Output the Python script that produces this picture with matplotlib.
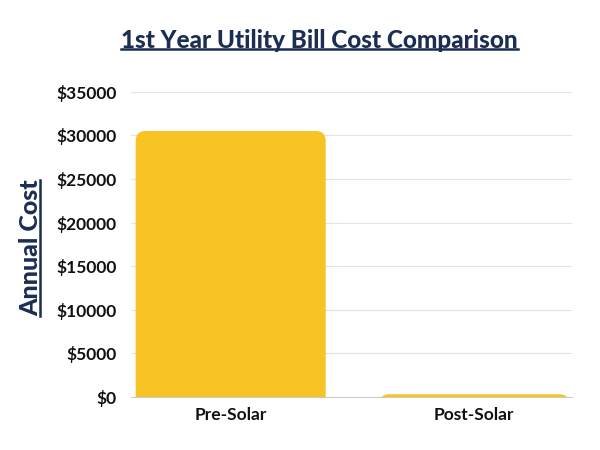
import matplotlib.pyplot as plt
from matplotlib.patches import FancyBboxPatch
from matplotlib.lines import Line2D
import matplotlib.ticker as ticker

categories = ['Pre-Solar', 'Post-Solar']
annual_cost = [30500, 300]
yticks = [0, 5000, 10000, 15000, 20000, 25000, 30000, 35000]

navy = '#1b2d52'
yellow = '#f7c325'

plt.rcParams['font.family'] = ['Lato', 'DejaVu Sans']

fig = plt.figure(figsize=(6, 4.5), dpi=100)
ax = fig.add_axes([0.218, 0.118, 0.735, 0.678])
ax.set_xlim(-0.41, 1.4)
ax.set_ylim(0, 35000)

bars = ax.bar(range(len(categories)), annual_cost, width=0.78, color=yellow)

# replace the plain bars with ones that have rounded tops
fig.canvas.draw()
bb = ax.get_window_extent()
aspect = (35000 / bb.height) / (1.81 / bb.width)   # y-units per x-unit
r = 0.04
for b in bars:
    x, w, h = b.get_x(), b.get_width(), b.get_height()
    b.set_visible(False)
    ext = 3 * r * aspect
    p = FancyBboxPatch((x, -ext), w, h + ext,
                       boxstyle='round,pad=0,rounding_size=%f' % r,
                       mutation_aspect=aspect, facecolor=yellow, edgecolor='none')
    ax.add_patch(p)

ax.set_yticks(yticks)
ax.yaxis.set_major_formatter(ticker.FuncFormatter(lambda v, p: '$%d' % v))
ax.set_xticks(range(len(categories)))
ax.set_xticklabels(categories)
for lab in ax.get_xticklabels() + ax.get_yticklabels():
    lab.set_fontweight('bold')
    lab.set_fontsize(12.5)
    lab.set_color('#111111')
ax.tick_params(length=0, pad=7)
ax.tick_params(axis='y', pad=10)
ax.grid(axis='y', color='#e3e3e3', linewidth=0.8)
ax.set_axisbelow(True)
for s in ['top', 'right', 'left']:
    ax.spines[s].set_visible(False)
ax.spines['bottom'].set_color('#cccccc')

t = fig.text(0.533, 0.91, '1st Year Utility Bill Cost Comparison', ha='center', va='center',
             fontsize=17.5, fontweight='black', color=navy)
yl = fig.text(0.052, 0.449, 'Annual Cost', ha='center', va='center', rotation=90,
              fontsize=18, fontweight='black', color=navy)

fig.canvas.draw()
inv = fig.transFigure.inverted()
bb = t.get_window_extent().transformed(inv)
fig.add_artist(Line2D([bb.x0, bb.x1], [bb.y0 + 0.006, bb.y0 + 0.006], color=navy, lw=1.8))
bb = yl.get_window_extent().transformed(inv)
fig.add_artist(Line2D([bb.x1 - 0.004, bb.x1 - 0.004], [bb.y0, bb.y1], color=navy, lw=1.8))

fig.savefig('out.png', dpi=100)
